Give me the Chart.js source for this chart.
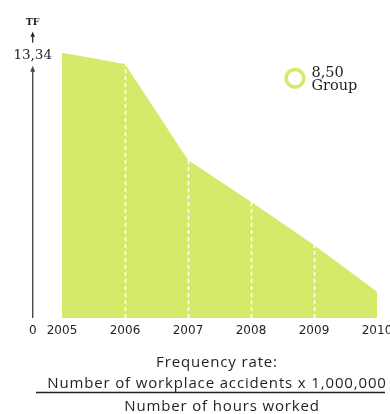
<!DOCTYPE html>
<html>
<head>
<meta charset="utf-8">
<script src="https://cdn.jsdelivr.net/npm/chart.js@4/dist/chart.umd.min.js"></script>
<style>
  html, body { margin: 0; padding: 0; background: #fff; width: 390px; height: 414px; overflow: hidden; }
  #wrap { position: relative; width: 410px; height: 414px; }
  canvas { display: block; }
</style>
</head>
<body>
<div id="wrap"><canvas id="tf" width="410" height="414"></canvas></div>
<script>
// Frequency rate (TF) of the group, 2005-2010
const years = ['2005', '2006', '2007', '2008', '2009', '2010'];
const frequencyRate = [13.34, 12.77, 7.94, 5.85, 3.67, 1.32];
const axisTopLabel = '13,34';
const axisUnit = 'TF';
const groupRate = ['8,50', 'Group'];
const formulaLines = ['Frequency rate:', 'Number of workplace accidents x 1,000,000', 'Number of hours worked'];

const GREEN = 'rgb(214,233,107)';
const INK = '#231f20';
const TICK_PAD = 6;

// dashed white year markers laid over the filled area, plus axis, legend and formula
const decorations = {
  id: 'decorations',
  afterDatasetsDraw(chart) {
    const { ctx, scales: { x, y } } = chart;
    ctx.save();
    ctx.strokeStyle = '#ffffff';
    ctx.lineWidth = 1.5;
    ctx.setLineDash([4, 3]);
    for (let i = 1; i < years.length - 1; i++) {
      const px = Math.round(x.getPixelForValue(i)) + 0.5;
      ctx.beginPath();
      ctx.moveTo(px, y.getPixelForValue(0));
      ctx.lineTo(px, y.getPixelForValue(frequencyRate[i]));
      ctx.stroke();
    }
    ctx.restore();
  },
  afterDraw(chart) {
    const { ctx, scales: { x, y } } = chart;
    const ax = 32.7;
    const y0 = y.getPixelForValue(0);
    const yTop = y.getPixelForValue(frequencyRate[0]);
    ctx.save();

    // vertical axis with arrow
    ctx.strokeStyle = '#4a4a4a';
    ctx.fillStyle = '#4a4a4a';
    ctx.lineWidth = 1.4;
    ctx.beginPath();
    ctx.moveTo(ax, y0);
    ctx.lineTo(ax, yTop + 17);
    ctx.stroke();
    ctx.beginPath();
    ctx.moveTo(ax, yTop + 13);
    ctx.lineTo(ax - 2.5, yTop + 19);
    ctx.lineTo(ax + 2.5, yTop + 19);
    ctx.closePath();
    ctx.fill();

    // small arrow up to the unit label
    ctx.strokeStyle = INK;
    ctx.fillStyle = INK;
    ctx.lineWidth = 1.2;
    ctx.beginPath();
    ctx.moveTo(ax, yTop - 10);
    ctx.lineTo(ax, yTop - 18);
    ctx.stroke();
    ctx.beginPath();
    ctx.moveTo(ax, yTop - 21);
    ctx.lineTo(ax - 2.2, yTop - 16);
    ctx.lineTo(ax + 2.2, yTop - 16);
    ctx.closePath();
    ctx.fill();

    ctx.textAlign = 'center';
    ctx.textBaseline = 'middle';
    ctx.font = '13.5px "DejaVu Serif"';
    ctx.fillText(axisTopLabel, ax, yTop + 2.6);
    ctx.font = 'bold 9.5px "DejaVu Serif"';
    ctx.fillText(axisUnit, ax, yTop - 30.5);

    // zero label on the same row as the year ticks
    const first = x.getLabelItems()[0];
    ctx.font = '12px "DejaVu Sans"';
    ctx.textBaseline = first.options.textBaseline;
    ctx.fillText('0', ax, first.options.translation[1] + first.textOffset);

    // group marker
    ctx.strokeStyle = GREEN;
    ctx.lineWidth = 3.6;
    ctx.beginPath();
    ctx.arc(295, 78.3, 8.8, 0, Math.PI * 2);
    ctx.stroke();
    ctx.fillStyle = INK;
    ctx.textAlign = 'left';
    ctx.textBaseline = 'alphabetic';
    ctx.font = '14.5px "DejaVu Serif"';
    ctx.fillText(groupRate[0], 311.5, 76.8);
    ctx.fillText(groupRate[1], 311.5, 89.5);

    // formula underneath
    ctx.textAlign = 'center';
    ctx.font = '15px "Open Sans"';
    ctx.letterSpacing = '0.85px';
    ctx.fillStyle = INK;
    ctx.fillText(formulaLines[0], 217, 366.7);
    ctx.fillText(formulaLines[1], 217, 388.3);
    ctx.fillText(formulaLines[2], 222, 410.7);
    ctx.letterSpacing = '0px';
    ctx.strokeStyle = INK;
    ctx.lineWidth = 1.3;
    ctx.beginPath();
    ctx.moveTo(36, 392.5);
    ctx.lineTo(385, 392.5);
    ctx.stroke();
    ctx.restore();
  }
};

new Chart(document.getElementById('tf'), {
  type: 'line',
  data: {
    labels: years,
    datasets: [{
      data: frequencyRate,
      fill: 'origin',
      backgroundColor: GREEN,
      borderWidth: 0,
      borderColor: GREEN,
      pointRadius: 0,
      tension: 0
    }]
  },
  options: {
    responsive: false,
    animation: false,
    events: [],
    layout: { padding: { left: 62, right: 33, top: 52.7, bottom: 69.6 } },
    scales: {
      x: {
        offset: false,
        grid: { display: false, drawTicks: false },
        border: { display: false },
        ticks: {
          color: INK,
          font: { family: '"DejaVu Sans"', size: 12 },
          padding: TICK_PAD,
          maxRotation: 0,
          autoSkip: false
        }
      },
      y: { display: false, min: 0, max: 13.34 }
    },
    plugins: { legend: { display: false }, tooltip: { enabled: false } }
  },
  plugins: [decorations]
});
</script>
</body>
</html>
